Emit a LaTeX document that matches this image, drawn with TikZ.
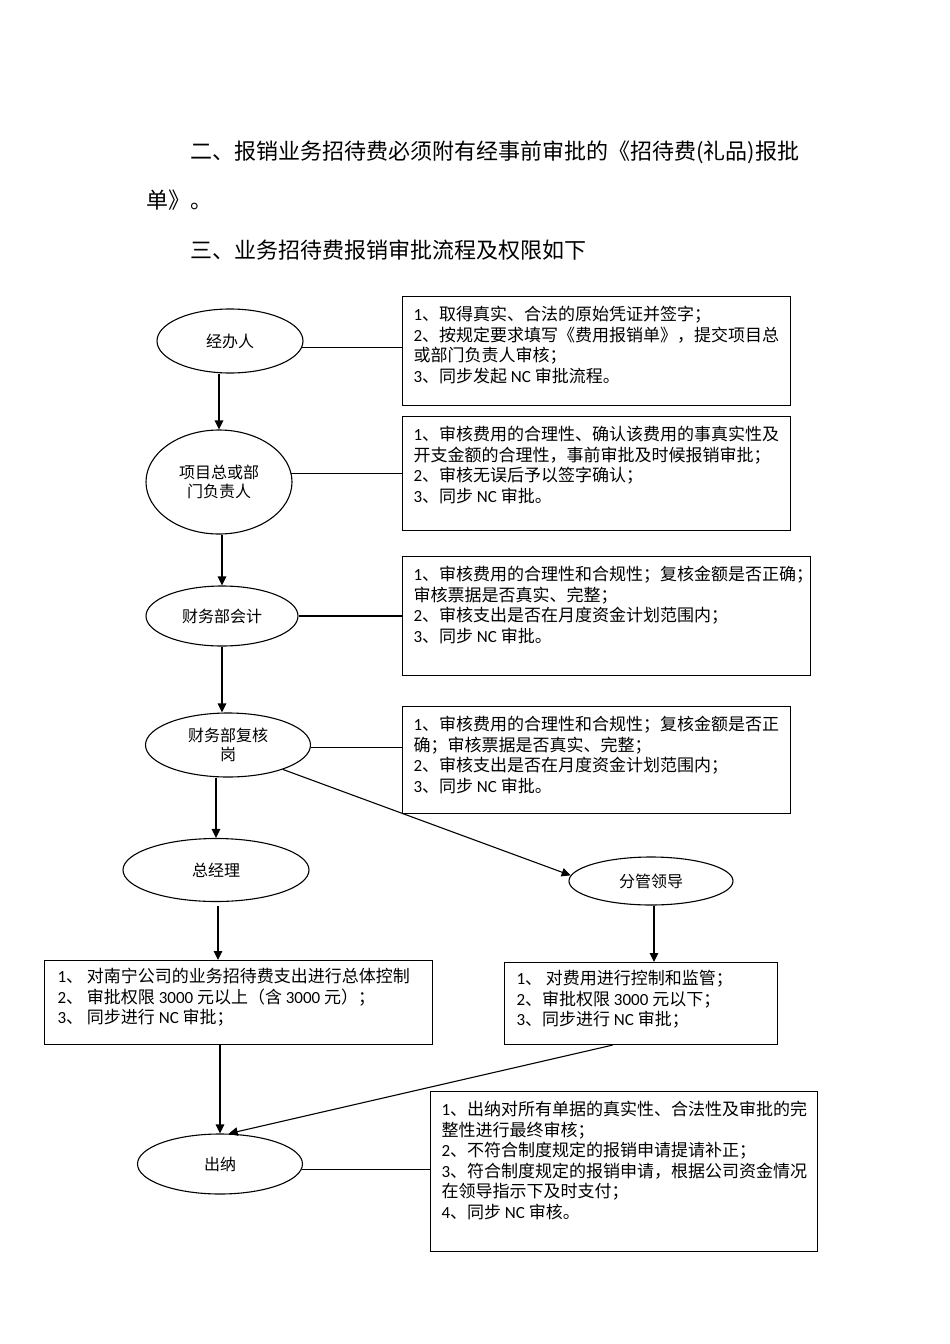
\documentclass[tikz,border=0pt]{standalone}
\usepackage{fontspec}
\setmainfont{Noto Sans CJK SC}
\newfontfamily\carl{Carlito}
\newcommand\ltn[1]{{\carl #1}}
\usetikzlibrary{shapes.geometric,arrows.meta}
\begin{document}
\begin{tikzpicture}[x=1pt,y=-1pt,
  line width=1.1pt,
  oval/.style={draw, ellipse, inner sep=0pt, align=center, font=\fontsize{16}{19.5}\selectfont},
  panel/.style={draw, rectangle, inner sep=0pt, anchor=north west},
  note/.style={anchor=north west, inner sep=0pt, align=left, font=\fontsize{17}{20.5}\selectfont},
  head/.style={anchor=west, inner sep=0pt, font=\fontsize{22}{26}\selectfont},
  arr/.style={-{Triangle[length=9pt,width=8.5pt]}}
]
\useasboundingbox (0,0) rectangle (950,1344);

% heading text
\node[head] (h1) at (190,152) {二、报销业务招待费必须附有经事前审批的《招待费(礼品)报批};
\node[head] (h2) at (146,200) {单》。};
\node[head] (h3) at (190,250) {三、业务招待费报销审批流程及权限如下};

% ellipses
\node[oval, minimum width=146pt, minimum height=64pt]  (e1) at (230,341)  {经办人};
\node[oval, minimum width=146pt, minimum height=104pt] (e2) at (219,482)  {项目总或部\\门负责人};
\node[oval, minimum width=152pt, minimum height=60pt]  (e3) at (222,616)  {财务部会计};
\node[oval, minimum width=165pt, minimum height=64pt]  (e4) at (228,745)  {财务部复核\\岗};
\node[oval, minimum width=186pt, minimum height=63pt]  (e5) at (216,870)  {总经理};
\node[oval, minimum width=164pt, minimum height=48pt]  (e6) at (651,881)  {分管领导};
\node[oval, minimum width=165pt, minimum height=60pt]  (e7) at (220,1164) {出纳};

% boxes
\node[panel, minimum width=388pt, minimum height=109pt] (b1) at (402,296)  {};
\node[panel, minimum width=388pt, minimum height=114pt] (b2) at (402,416)  {};
\node[panel, minimum width=408pt, minimum height=119pt] (b3) at (402,556)  {};
\node[panel, minimum width=388pt, minimum height=107pt] (b4) at (402,706)  {};
\node[panel, minimum width=388pt, minimum height=84pt]  (b5) at (44,960)   {};
\node[panel, minimum width=273pt, minimum height=82pt]  (b6) at (504,962)  {};
\node[panel, minimum width=387pt, minimum height=160pt] (b7) at (430,1091) {};

% box texts
\node[note] (t1) at ([xshift=11pt,yshift=-10pt]b1.north west) {%
\ltn{1}、取得真实、合法的原始凭证并签字；\\
\ltn{2}、按规定要求填写《费用报销单》，提交项目总\\
或部门负责人审核；\\
\ltn{3}、同步发起 \ltn{NC} 审批流程。};
\node[note] (t2) at ([xshift=11pt,yshift=-10pt]b2.north west) {%
\ltn{1}、审核费用的合理性、确认该费用的事真实性及\\
开支金额的合理性，事前审批及时候报销审批；\\
\ltn{2}、审核无误后予以签字确认；\\
\ltn{3}、同步 \ltn{NC} 审批。};
\node[note] (t3) at ([xshift=11pt,yshift=-10pt]b3.north west) {%
\ltn{1}、审核费用的合理性和合规性；复核金额是否正确；\\
审核票据是否真实、完整；\\
\ltn{2}、审核支出是否在月度资金计划范围内；\\
\ltn{3}、同步 \ltn{NC} 审批。};
\node[note] (t4) at ([xshift=11pt,yshift=-10pt]b4.north west) {%
\ltn{1}、审核费用的合理性和合规性；复核金额是否正\\
确；审核票据是否真实、完整；\\
\ltn{2}、审核支出是否在月度资金计划范围内；\\
\ltn{3}、同步 \ltn{NC} 审批。};
\node[note] (t5) at ([xshift=13pt,yshift=-8pt]b5.north west) {%
\ltn{1}、 对南宁公司的业务招待费支出进行总体控制\\
\ltn{2}、 审批权限 \ltn{3000} 元以上（含 \ltn{3000} 元）；\\
\ltn{3}、 同步进行 \ltn{NC} 审批；};
\node[note] (t6) at ([xshift=12pt,yshift=-8pt]b6.north west) {%
\ltn{1}、 对费用进行控制和监管；\\
\ltn{2}、审批权限 \ltn{3000} 元以下；\\
\ltn{3}、同步进行 \ltn{NC} 审批；};
\node[note] (t7) at ([xshift=11pt,yshift=-10pt]b7.north west) {%
\ltn{1}、出纳对所有单据的真实性、合法性及审批的完\\
整性进行最终审核；\\
\ltn{2}、不符合制度规定的报销申请提请补正；\\
\ltn{3}、符合制度规定的报销申请，根据公司资金情况\\
在领导指示下及时支付；\\
\ltn{4}、同步 \ltn{NC} 审核。};

% plain links ellipse -> box
\draw (e1.-5) -- (e1.-5 -| b1.west);
\draw (e2.7) -- (e2.7 -| b2.west);
\draw (e3.east) -- (e3.east -| b3.west);
\draw (e4.-2) -- (e4.-2 -| b4.west);
\draw (e7.-4) -- (e7.-4 -| b7.west);

% flow arrows
\draw[arr] (e1.south -| e2.north) -- (e2.north);
\draw[arr] (e2.south -| e3.north) -- (e3.north);
\draw[arr] (e3.south) -- (e3.south |- e4.north);
\draw[arr] (e4.south -| e5.north) -- (e5.north);
\draw[arr] (e4.-24) -- (e6.176);
\draw[arr, shorten <=4pt] ([xshift=2pt]e5.south) -- ([xshift=2pt]e5.south |- b5.north);
\draw[arr] ([xshift=3pt]e6.south) -- ([xshift=3pt]e6.south |- b6.north);
\draw[arr] (e7.north |- b5.south) -- (e7.north);
\draw[arr] ([xshift=-28.5pt]b6.south) -- (e7.74);
\end{tikzpicture}
\end{document}
